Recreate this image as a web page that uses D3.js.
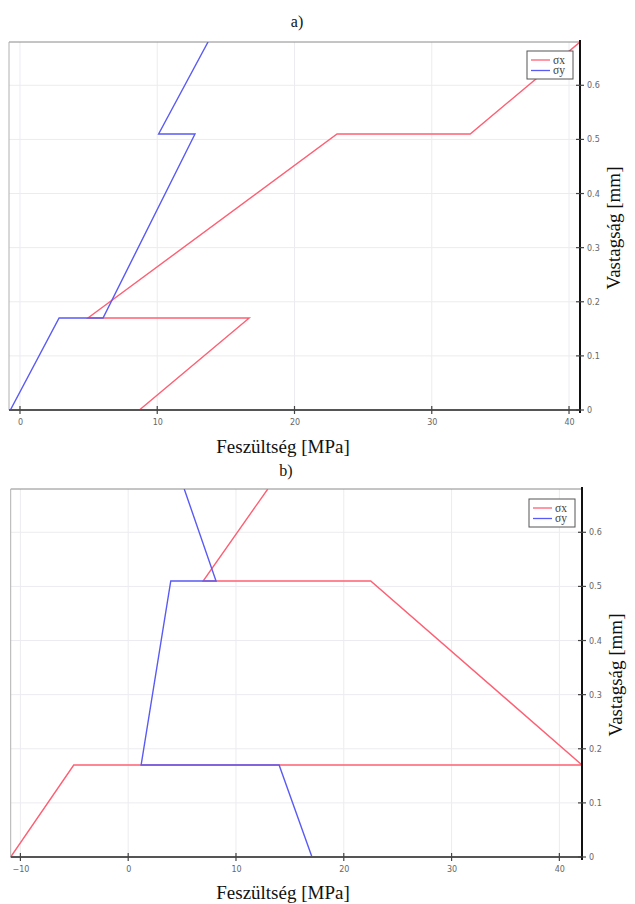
<!DOCTYPE html>
<html>
<head>
<meta charset="utf-8">
<script src="https://cdn.jsdelivr.net/npm/d3@7"></script>
<style>
  html, body { margin: 0; padding: 0; background: #fff; }
  svg { display: block; }
</style>
</head>
<body>
<svg id="chart" width="635" height="904"></svg>
<script>
// ---- data ----
const depthLevels = [0, 0.17, 0.17, 0.51, 0.51, 0.68];           // Vastagság [mm]
const sigmaXa = [8.7, 16.7, 4.95, 23.1, 32.8, 40.8];             // chart a) σx [MPa]
const sigmaYa = [-0.7, 2.85, 6.05, 12.75, 10.1, 13.7];           // chart a) σy [MPa]
const sigmaXb = [-10.9, -5.05, 42.1, 22.5, 6.95, 12.95];         // chart b) σx [MPa]
const sigmaYb = [17.05, 14.0, 1.2, 3.95, 8.15, 5.2];             // chart b) σy [MPa]
const xTicksA = [0, 10, 20, 30, 40];
const xTicksB = [-10, 0, 10, 20, 30, 40];
const yTicks = [0, 0.1, 0.2, 0.3, 0.4, 0.5, 0.6];
const seriesNames = ["σx", "σy"];
const seriesColors = ["#ff5f73", "#5a5af5"];

const svg = d3.select("#chart");
const serif = "'Liberation Serif', 'DejaVu Serif', serif";
const sans = "'DejaVu Sans', 'Liberation Sans', sans-serif";

function panel(cfg) {
  const { id, left, right, top, bottom, xDomain, xTicks, sx, sy, title, titleX, titleY, xLabelY, legendTop } = cfg;
  const x = d3.scaleLinear().domain(xDomain).range([left, right]);
  const y = d3.scaleLinear().domain([0, 0.68]).range([bottom, top]);
  const g = svg.append("g");

  // title
  g.append("text").attr("x", titleX).attr("y", titleY).attr("text-anchor", "middle")
    .attr("font-family", serif).attr("font-size", 16).attr("fill", "#111").text(title);

  // grid
  g.append("g").selectAll("line.vg").data(xTicks).join("line")
    .attr("x1", d => x(d)).attr("x2", d => x(d)).attr("y1", top).attr("y2", bottom)
    .attr("stroke", "#ececf0").attr("stroke-width", 1);
  g.append("g").selectAll("line.hg").data(yTicks.slice(1)).join("line")
    .attr("x1", left).attr("x2", right).attr("y1", d => y(d)).attr("y2", d => y(d))
    .attr("stroke", "#ececf0").attr("stroke-width", 1);

  // frame top/left
  g.append("line").attr("x1", left).attr("x2", right).attr("y1", top).attr("y2", top)
    .attr("stroke", "#8a8a8a").attr("stroke-width", 1);
  g.append("line").attr("x1", left).attr("x2", left).attr("y1", top).attr("y2", bottom)
    .attr("stroke", "#b0b0b0").attr("stroke-width", 1);

  // clip
  g.append("clipPath").attr("id", "clip" + id).append("rect")
    .attr("x", left).attr("y", top).attr("width", right - left).attr("height", bottom - top);

  const line = d3.line().x(d => x(d[0])).y(d => y(d[1]));
  const plot = g.append("g").attr("clip-path", `url(#clip${id})`);
  [sx, sy].forEach((vals, i) => {
    plot.append("path")
      .datum(vals.map((v, k) => [v, depthLevels[k]]))
      .attr("d", line).attr("fill", "none")
      .attr("stroke", seriesColors[i]).attr("stroke-width", 1.4)
      .attr("stroke-linejoin", "miter");
  });

  // bottom axis
  const xAxis = d3.axisBottom(x).tickValues(xTicks).tickSize(0).tickPadding(9).tickFormat(d3.format("d"));
  const xa = g.append("g").attr("transform", `translate(0,${bottom})`).call(xAxis);
  xa.select(".domain").remove();
  xa.selectAll("text").attr("font-family", sans).attr("font-size", 8).attr("fill", "#666");
  g.append("line").attr("x1", left).attr("x2", right).attr("y1", bottom).attr("y2", bottom)
    .attr("stroke", "#555").attr("stroke-width", 1.8);
  g.append("g").selectAll("line").data(xTicks).join("line")
    .attr("x1", d => x(d)).attr("x2", d => x(d)).attr("y1", bottom - 4).attr("y2", bottom + 4)
    .attr("stroke", "#444").attr("stroke-width", 1.2);

  // right axis
  const yAxis = d3.axisRight(y).tickValues(yTicks).tickSize(0).tickPadding(7).tickFormat(d => d === 0 ? "0" : d3.format(".1f")(d));
  const ya = g.append("g").attr("transform", `translate(${right},0)`).call(yAxis);
  ya.select(".domain").remove();
  ya.selectAll("text").attr("font-family", sans).attr("font-size", 8).attr("fill", "#666");
  g.append("line").attr("x1", right).attr("x2", right).attr("y1", top - 2).attr("y2", bottom + 3)
    .attr("stroke", "#111").attr("stroke-width", 2);
  g.append("g").selectAll("line").data(yTicks).join("line")
    .attr("x1", right - 4).attr("x2", right + 4).attr("y1", d => y(d)).attr("y2", d => y(d))
    .attr("stroke", "#444").attr("stroke-width", 1.2);

  // axis labels
  g.append("text").attr("x", 283).attr("y", xLabelY).attr("text-anchor", "middle")
    .attr("font-family", serif).attr("font-size", 19).attr("fill", "#111").text("Feszültség [MPa]");
  const cy = (top + bottom) / 2 + 2;
  g.append("text").attr("transform", `translate(${right + 40},${cy}) rotate(-90)`)
    .attr("text-anchor", "middle").attr("font-family", serif).attr("font-size", 19)
    .attr("fill", "#111").text("Vastagság [mm]");

  // legend
  const lg = g.append("g").attr("transform", `translate(${right - 53},${legendTop})`);
  lg.append("rect").attr("x", 0).attr("y", 0).attr("width", 46).attr("height", 28)
    .attr("fill", "#fff").attr("stroke", "#555").attr("stroke-width", 1);
  seriesNames.forEach((n, i) => {
    const yy = 9 + i * 10.5;
    lg.append("line").attr("x1", 4).attr("x2", 23).attr("y1", yy).attr("y2", yy)
      .attr("stroke", seriesColors[i]).attr("stroke-width", 1.3);
    lg.append("text").attr("x", 26).attr("y", yy + 3.5).attr("font-family", serif)
      .attr("font-size", 11.5).attr("fill", "#444").text(n);
  });
}

panel({ id: "a", left: 9, right: 580, top: 42, bottom: 410, xDomain: [-0.8, 40.8], xTicks: xTicksA,
        sx: sigmaXa, sy: sigmaYa, title: "a)", titleX: 297, titleY: 27, xLabelY: 453, legendTop: 51 });
panel({ id: "b", left: 10.7, right: 582, top: 489, bottom: 857, xDomain: [-10.9, 42.1], xTicks: xTicksB,
        sx: sigmaXb, sy: sigmaYb, title: "b)", titleX: 286, titleY: 476, xLabelY: 899, legendTop: 499 });
</script>
</body>
</html>
